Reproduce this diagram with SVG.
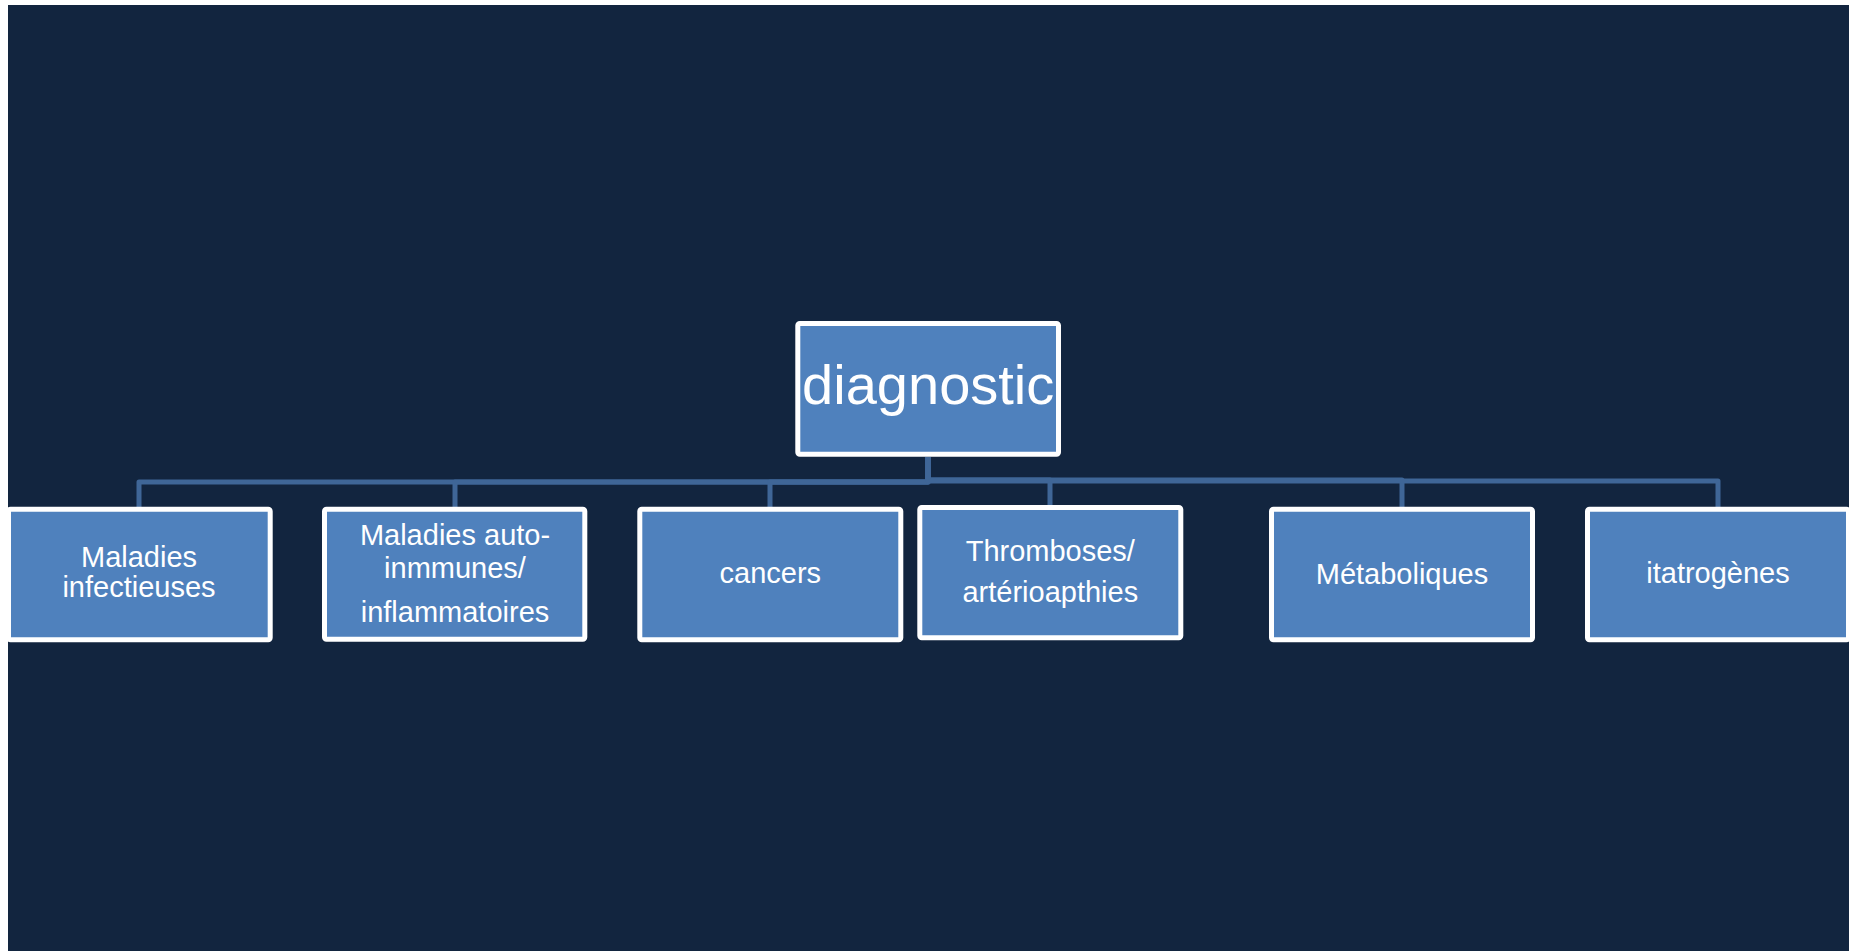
<svg xmlns="http://www.w3.org/2000/svg" width="1852" height="951" viewBox="0 0 1852 951">
<style>
.box{fill:#4F81BD;stroke:#FFFFFF;stroke-width:5}
.conn{fill:none;stroke:#3F6697;stroke-width:5;stroke-linejoin:round}
.t{font-family:"Liberation Sans",Arial,sans-serif;fill:#FFFFFF;text-anchor:middle;font-size:29px}
.root{font-size:56px}
</style>
<rect x="0" y="0" width="1852" height="951" fill="#FFFFFF"/>
<rect x="8" y="5" width="1841" height="946" fill="#12253F"/>
<g id="connectors">
<path class="conn" d="M928,457 V482 H139 V507"/>
<path class="conn" d="M928,457 V482 H455 V507"/>
<path class="conn" d="M928,457 V482 H770 V507"/>
<path class="conn" d="M928,457 V480 H1050 V505"/>
<path class="conn" d="M928,457 V480 H1402 V507"/>
<path class="conn" d="M928,457 V481 H1718 V507"/>
</g>
<g id="node-diagnostic">
<rect class="box" x="797.8" y="323.5" width="260.7" height="130.7" rx="2"/>
<text class="t root" x="928.2" y="404">diagnostic</text>
</g>
<g id="node-infectieuses">
<rect class="box" x="8.5" y="509.2" width="261.7" height="130.6" rx="2"/>
<text class="t" x="139" y="567.3">Maladies</text>
<text class="t" x="139" y="597.3">infectieuses</text>
</g>
<g id="node-autoimmunes">
<rect class="box" x="324.5" y="509.2" width="260.3" height="130" rx="2"/>
<text class="t" x="455" y="545">Maladies auto-</text>
<text class="t" x="455" y="578.3">inmmunes/</text>
<text class="t" x="455" y="621.7">inflammatoires</text>
</g>
<g id="node-cancers">
<rect class="box" x="639.8" y="509.2" width="261" height="130.6" rx="2"/>
<text class="t" x="770.3" y="582.7">cancers</text>
</g>
<g id="node-thromboses">
<rect class="box" x="919.8" y="507.5" width="261" height="130.3" rx="2"/>
<text class="t" x="1050.3" y="560.7">Thromboses/</text>
<text class="t" x="1050.3" y="601.7">artérioapthies</text>
</g>
<g id="node-metaboliques">
<rect class="box" x="1271.5" y="509.2" width="261" height="130.6" rx="2"/>
<text class="t" x="1402" y="584">Métaboliques</text>
</g>
<g id="node-iatrogenes">
<rect class="box" x="1587.5" y="509.2" width="261" height="130.6" rx="2"/>
<text class="t" x="1718" y="583.3">itatrogènes</text>
</g>
</svg>
